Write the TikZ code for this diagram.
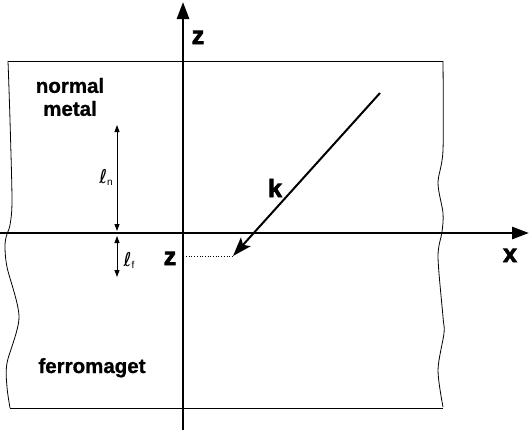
\documentclass[tikz,border=0pt]{standalone}
\usepackage{fontspec}
\setmainfont{Liberation Sans}
\newfontfamily\heavyfont{Liberation Sans Bold}[FakeBold=3]
\newfontfamily\regionfont{Liberation Sans Bold}[FakeBold=1]
\newfontfamily\symfont{DejaVu Sans}
\usetikzlibrary{arrows.meta}

\begin{document}
\begin{tikzpicture}[x=1pt,y=-1pt,
        axis/.style={line width=2.8pt, -{Triangle[length=17pt,width=12pt]}},
        border/.style={line width=0.8pt},
        biglabel/.style={font=\fontsize{25}{25}\heavyfont, inner sep=0pt, anchor=base},
        region/.style={font=\fontsize{20.5}{23}\regionfont, align=center, inner sep=0pt},
        thick len/.style={line width=0.9pt, {Triangle[length=7pt,width=5pt]}-{Triangle[length=7pt,width=5pt]}},
        lenlabel/.style={font=\fontsize{19}{19}\selectfont, inner sep=0pt, anchor=base}]
        \useasboundingbox (0,0) rectangle (529,434);

        % Slab (normal metal on top of ferromagnet)
        \draw[border] (8,61) -- (443,61);
        \draw[border] (10,408) -- (443,408);
        \draw[border] plot[smooth, tension=0.5] coordinates {(8,61) (10,120) (12,200) (10,225) (7,234) (5,245) (7,267) (19,317) (7,363) (7,387) (10,408)};
        \draw[border] plot[smooth, tension=0.5] coordinates {(443,61) (443,150) (438,183) (443,213) (442,232) (438,257) (443,317) (444,333) (438,370) (443,407)};

        % Axes
        \coordinate (O) at (183,233);
        \coordinate (xleft) at (0,233);
        \coordinate (xright) at (529,233);
        \coordinate (zbottom) at (183,430);
        \coordinate (ztop) at (183,2);
        \draw[axis] (xleft) -- (xright);
        \draw[axis] (zbottom) -- (ztop);
        \node[biglabel] (zlabel) at (198,44) {z};
        \node[biglabel] (xlabel) at (510,262) {x};

        % Wave vector k
        \coordinate (kstart) at (380,93);
        \coordinate (kend) at (233,256);
        \draw[line width=2pt, -{Stealth[length=19pt,width=13pt,inset=4pt]}] (kstart) -- (kend);
        \node[biglabel] (klabel) at (275,197) {k};

        % Depth z
        \node[biglabel] (zdepth) at (170,265) {z};
        \coordinate (dotleft) at (186,256);
        \draw[dotted, line width=0.7pt] (dotleft) -- (kend);

        % Lengths
        \coordinate (lntop) at (117,125);
        \coordinate (lnbottom) at (117,231);
        \coordinate (lftop) at (117,236);
        \coordinate (lfbottom) at (117,277);
        \draw[thick len] (lntop) -- (lnbottom);
        \draw[thick len] (lftop) -- (lfbottom);
        \node[lenlabel] (ln) at (106,183) {{\symfont ℓ}\raisebox{-2pt}{\fontsize{10}{10}\selectfont n}};
        \node[lenlabel] (lf) at (129,266) {{\symfont ℓ}\raisebox{-2pt}{\fontsize{10}{10}\selectfont f}};

        % Regions
        \node[region] (normal) at (70,97) {normal\\metal};
        \node[region, anchor=base] (ferro) at (92,373) {ferromaget};

    \end{tikzpicture}
\end{document}
